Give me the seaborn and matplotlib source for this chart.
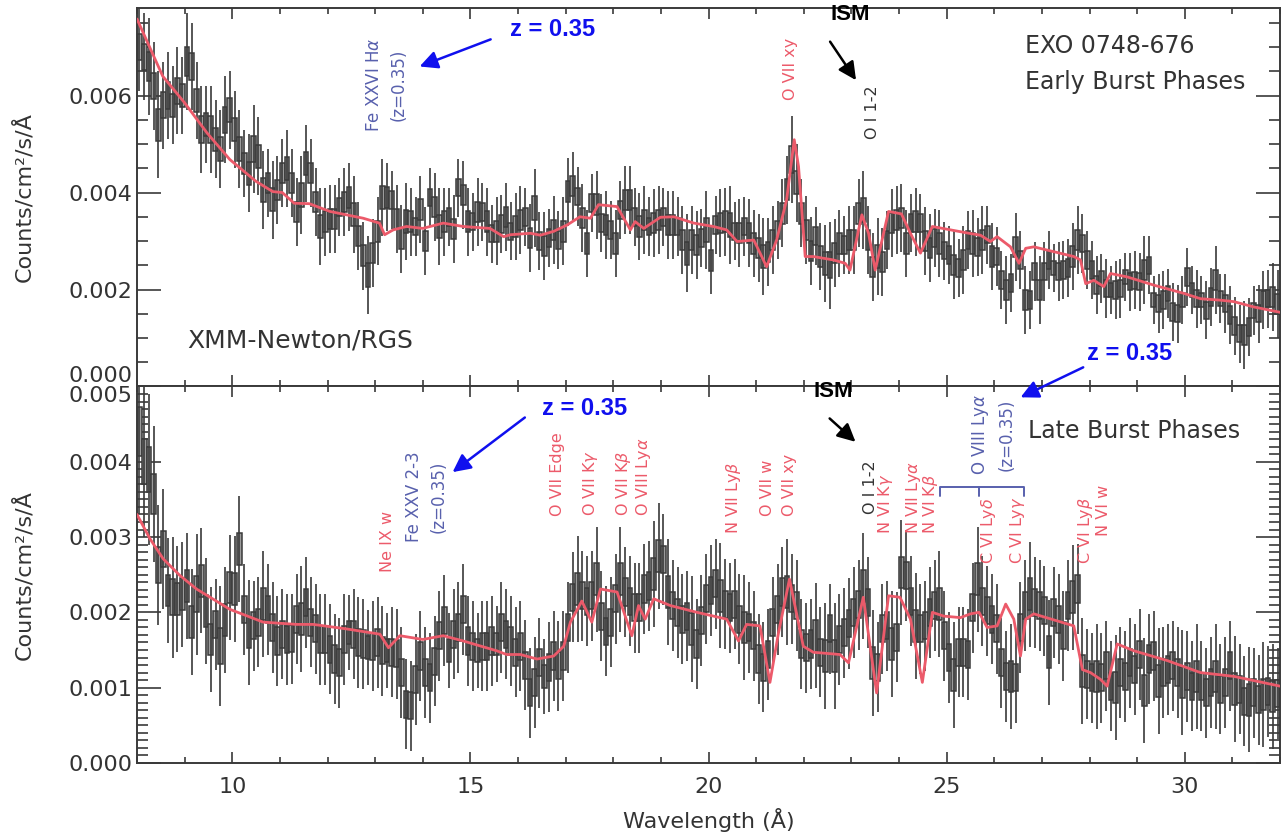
import numpy as np
import pandas as pd
import matplotlib
matplotlib.use("Agg")
import matplotlib.pyplot as plt
import seaborn as sns

# --- spectra, flux in units of 1e-4 counts/cm2/s/A, one row per Angstrom (0.1 A bins) ---
top_flux = [
    70, 68, 66, 62, 54, 58, 60, 58, 61, 60,
    67, 66, 59, 53, 54, 53, 51, 49, 55, 57,
    53, 49, 46, 44, 49, 47.5, 40.5, 42, 38.5, 40.5,
    44, 45, 42, 36, 39.5, 46, 44, 38, 33, 34,
    34.5, 34.5, 37, 38, 39, 35.5, 31, 27, 23, 27.5,
    32, 39, 39, 38.5, 34.5, 30.5, 34, 34, 33, 36.5,
    30, 39, 37, 33, 34, 35, 32.5, 41, 39.5, 34,
    34, 36, 36, 34, 31.5, 32, 33.5, 35, 32, 33,
    34.4, 35, 30.6, 36.8, 30, 29, 30.6, 32.3, 30.2, 32,
    40.2, 41.3, 39.2, 34.7, 29.5, 37.8, 37.5, 33.7, 33.3, 32.3,
    29.5, 36.4, 38.5, 38.5, 35, 33, 34.4, 33, 33.7, 34.4,
    35, 33.3, 33.3, 33, 30.2, 27.5, 30.2, 29.2, 30.6, 32.3,
    26, 33.3, 33.7, 34, 33.3, 32, 31.6, 33, 31.6, 29.5,
    28.5, 26.8, 27.8, 30.2, 32.3, 35.7, 40.6, 46.8, 42, 35.7,
    32.3, 28, 31, 26.8, 25.4, 25, 27.5, 29.5, 29.2, 30.2,
    30.2, 35.7, 36.4, 30.2, 24.7, 26.8, 25.7, 30.2, 33.7, 34.4,
    34.7, 29.5, 33.7, 34, 33.7, 30, 28.5, 30.6, 29.5, 28,
    27.1, 25, 24.4, 26.1, 30.2, 29.5, 28.8, 30.2, 31.3, 26.8,
    26.8, 22, 19.9, 21.3, 28.8, 26.1, 17.8, 17.8, 23.7, 19.9,
    23.7, 26.1, 24.4, 23.7, 24, 24.4, 26.8, 30.2, 29.5, 26.1,
    24, 20.9, 22.3, 20.2, 19.9, 19.9, 20.2, 22.6, 21.6, 21.9,
    21.6, 24, 25, 17.8, 17.1, 17.8, 19.2, 15.4, 15, 17.8,
    22.6, 19.9, 18.1, 17.8, 15.7, 18.5, 21.9, 18.1, 17.1, 14.7,
    12.5, 10.9, 10.6, 12.3, 15.7, 15, 17.8, 18.1, 18.5, 17,
]
top_err = [
    9, 9, 10, 9, 11, 9, 9, 8, 9, 8,
    10, 9, 8, 9, 8, 9, 8, 8, 9, 8,
    8, 8, 7, 8, 9, 8, 8, 7, 8, 7,
    7, 8, 7, 7, 8, 8, 7, 7, 8, 7,
    7, 7, 6, 7, 7, 8, 7, 7, 8, 7,
    7, 8, 7, 6, 7, 7, 8, 7, 6, 7,
    7, 6, 7, 8, 7, 6, 7, 6, 7, 7,
    6, 7, 6, 7, 6, 7, 6, 7, 6, 7,
    7, 6, 7, 8, 6, 7, 6, 7, 6, 7,
    7, 7, 6, 7, 7, 6, 7, 6, 7, 6,
    7, 6, 7, 7, 6, 7, 7, 6, 7, 7,
    6, 7, 7, 6, 7, 8, 7, 7, 6, 8,
    7, 6, 7, 7, 8, 6, 7, 6, 7, 7,
    7, 8, 7, 7, 6, 7, 7, 9, 8, 7,
    7, 7, 6, 7, 8, 9, 7, 7, 6, 7,
    7, 7, 8, 7, 7, 8, 7, 6, 7, 7,
    7, 7, 6, 7, 6, 7, 7, 6, 7, 6,
    6, 7, 6, 7, 6, 7, 6, 7, 6, 7,
    6, 6, 7, 6, 7, 6, 7, 6, 6, 7,
    6, 6, 5, 6, 6, 6, 7, 7, 6, 6,
    6, 6, 5, 6, 5, 6, 6, 5, 6, 6,
    6, 7, 6, 5, 6, 6, 5, 6, 6, 5,
    6, 5, 6, 5, 6, 6, 7, 5, 6, 6,
    6, 6, 7, 6, 5, 6, 6, 6, 7, 7,
]
bottom_flux = [
    44, 40, 39, 35.7, 26.3, 28.4, 22.9, 22, 21.8, 22.4,
    23.5, 18.7, 22.4, 24.2, 20.2, 16.4, 18.4, 15.5, 19, 23.3,
    23.1, 28.4, 20.4, 17.3, 18.2, 18.7, 21.1, 20.4, 18, 16.2,
    17.1, 16.4, 16.5, 19.1, 19.1, 21.3, 18.7, 17.8, 16.4, 16.4,
    15.1, 13.8, 13.3, 16.4, 17.3, 17.1, 16, 15.8, 15.3, 15.5,
    16, 14.9, 14.9, 14.7, 14.5, 12, 7.8, 7.6, 11.1, 14.2,
    12, 11.3, 13.5, 16.9, 18.9, 14.9, 17.1, 18, 20.4, 16.2,
    15.5, 14.9, 15.5, 15.5, 16.2, 15.8, 18, 17.1, 16.2, 14.7,
    15.5, 13, 9.3, 10.7, 13.3, 11.5, 12.7, 14.2, 12.9, 14.2,
    18, 22, 23.1, 22.2, 21.5, 22.2, 24.4, 19.5, 17.5, 18.7,
    21.8, 24.4, 22.7, 21.5, 20.6, 20.6, 23.1, 23.5, 25.1, 27.5,
    27, 22.7, 20.9, 20, 19.1, 19.5, 17.8, 15.8, 18.9, 21.8,
    22.9, 23.8, 22.2, 21.1, 20.6, 21.1, 19.1, 18, 18, 16.9,
    13.8, 12.7, 14.4, 18.7, 20.4, 22.7, 22.7, 21.8, 20.9, 15.8,
    15.3, 15.8, 16.9, 14.7, 14.2, 17.8, 14.2, 16.4, 17.3, 18.5,
    20, 21, 23.5, 21.3, 13.3, 12.7, 17.8, 18.2, 15.8, 16.7,
    25.3, 24.9, 21.5, 18.2, 17.8, 18.2, 20, 20.9, 21.1, 16.9,
    14, 11.7, 14.7, 14.7, 14.4, 20.6, 24.4, 21.5, 20.2, 19.1,
    17.8, 13.3, 11.5, 11.5, 11.3, 18, 20.9, 22.4, 21.3, 20.9,
    20.2, 14.7, 20, 19.1, 16.9, 20.9, 22, 23.1, 12.2, 11.8,
    11.3, 11.5, 11.3, 12.9, 10.2, 10, 12, 11.5, 13.3, 12.4,
    14.4, 9.6, 13.8, 14.2, 10.9, 12, 12.4, 12.9, 12, 10.7,
    11.5, 10.2, 11.5, 10.2, 9.3, 10.7, 11.5, 9.8, 10.7, 12.9,
    9.8, 9.8, 8.2, 8.4, 9.3, 8.4, 9.1, 9.5, 8.8, 9.2,
]
bottom_err = [
    11, 10, 10, 9, 8, 8, 7, 8, 7, 7,
    7, 7, 8, 7, 7, 7, 6, 8, 7, 7,
    7, 7, 6, 7, 6, 6, 7, 6, 6, 6,
    6, 6, 6, 6, 7, 6, 6, 6, 6, 6,
    6, 6, 6, 6, 5, 6, 6, 6, 5, 6,
    6, 6, 5, 6, 6, 6, 6, 6, 6, 6,
    6, 6, 6, 6, 6, 5, 6, 6, 6, 6,
    6, 5, 6, 6, 6, 5, 6, 6, 6, 6,
    6, 6, 6, 6, 6, 5, 6, 6, 6, 6,
    6, 6, 7, 6, 6, 6, 7, 6, 6, 6,
    6, 7, 6, 6, 6, 6, 6, 6, 7, 7,
    6, 7, 6, 6, 6, 6, 7, 6, 6, 6,
    6, 6, 7, 6, 6, 6, 6, 7, 6, 6,
    6, 6, 6, 6, 6, 6, 7, 6, 6, 6,
    6, 6, 7, 6, 7, 6, 7, 6, 6, 6,
    6, 6, 7, 6, 7, 6, 6, 6, 7, 6,
    7, 6, 6, 7, 6, 6, 6, 6, 7, 6,
    6, 7, 6, 6, 6, 6, 7, 6, 6, 6,
    6, 6, 6, 7, 6, 6, 6, 7, 6, 6,
    6, 7, 6, 6, 6, 6, 7, 6, 7, 6,
    6, 7, 6, 6, 6, 7, 6, 6, 6, 6,
    6, 7, 6, 6, 7, 6, 6, 6, 6, 7,
    6, 6, 7, 6, 6, 6, 7, 6, 6, 6,
    7, 6, 6, 7, 6, 6, 7, 6, 7, 6,
]

# --- best-fit models (red curves) ---
top_model_wave = [8.0, 8.54, 9.0, 9.47, 9.95, 10.5, 10.85, 11.05, 11.3, 11.62, 12.05, 12.75,
                  13.09, 13.2, 13.38, 13.66, 14.0, 14.43, 14.85, 15.41, 15.7, 15.84, 16.26,
                  16.47, 16.75, 17.03, 17.3, 17.52, 17.69, 18.08, 18.36, 18.46, 18.64, 18.99,
                  19.27, 19.69, 20.1, 20.38, 20.6, 20.95, 21.22, 21.43, 21.64, 21.8, 21.89,
                  22.03, 22.2, 22.62, 22.87, 22.97, 23.22, 23.36, 23.5, 23.78, 24.05, 24.24,
                  24.45, 24.7, 25.08, 25.47, 25.71, 25.92, 26.06, 26.34, 26.52, 26.66, 26.83,
                  27.67, 27.81, 27.92, 28.09, 28.3, 28.44, 28.79, 29.35, 29.98, 30.33, 30.75,
                  31.03, 31.45, 32.0]
top_model_flux = [75.8, 64, 58.5, 52.3, 46.8, 42.3, 40.2, 40, 37.8, 37.7, 36.1, 34.7,
                  33.7, 31.3, 32.3, 33, 32.6, 33.7, 33, 32.6, 30.9, 31.3, 31.6,
                  31.2, 32, 33.3, 35, 34.7, 37.5, 37.1, 32.3, 34, 32.6, 34.9,
                  35, 33.7, 33, 32.3, 29.9, 30.2, 24.7, 30.2, 38.5, 50.9, 45.4,
                  26.8, 26.8, 26.1, 25.4, 24, 35.4, 31.6, 24, 36.1, 35.6, 31.6,
                  27.5, 33, 32.3, 31.6, 31.2, 29.9, 30.9, 28.8, 25.4, 28.5, 28.8,
                  26.8, 26.1, 21.2, 21.9, 20.6, 23.3, 22.6, 20.9, 19.2, 18.1, 17.8,
                  17.5, 16.4, 15.3]
bottom_model_wave = [8.0, 8.27, 8.55, 8.9, 9.25, 9.95, 10.65, 11.35, 11.7, 12.4, 13.1, 13.28,
                     13.52, 14.0, 14.43, 14.85, 15.55, 15.76, 16.05, 16.4, 16.75, 16.96, 17.1,
                     17.34, 17.55, 17.73, 18.08, 18.39, 18.53, 18.67, 18.85, 19.2, 19.76, 20.38,
                     20.63, 20.8, 21.08, 21.29, 21.47, 21.7, 21.99, 22.2, 22.76, 22.94, 23.25,
                     23.53, 23.78, 24.02, 24.24, 24.49, 24.7, 24.94, 25.29, 25.5, 25.68, 25.85,
                     26.06, 26.24, 26.41, 26.55, 26.66, 26.83, 27.67, 27.85, 28.02, 28.23, 28.37,
                     28.58, 28.93, 29.63, 30.33, 31.03, 32.0]
bottom_model_flux = [33, 29.8, 27.1, 24.9, 23.1, 20.4, 18.7, 18.4, 18.4, 17.8, 17.1, 15.3,
                     16.9, 16.4, 16.9, 16.2, 14.9, 14.4, 14.4, 13.8, 14.2, 15.5, 18.7,
                     21.5, 18.7, 23.1, 22.7, 16.9, 20.9, 19.1, 21.8, 20.9, 20, 19.1,
                     16.2, 18.4, 18.2, 10.7, 17.3, 24.4, 15.5, 14.7, 14.4, 13.3, 22,
                     9.3, 22.2, 22, 19.1, 10.7, 20, 19.5, 19.3, 19.8, 20, 18,
                     18.2, 21.1, 19.1, 14.2, 19.1, 19.8, 18.2, 12.4, 12, 11.1, 10.2,
                     15.8, 14.9, 13.6, 12, 11.5, 10.2]

# --- line identifications: (label, wavelength, flux 1e-4) ---
top_lines_red = [("O VII xy", 21.72, 59.0)]
top_lines_gray = [("O I 1-2", 23.44, 51.0)]
bottom_lines_red = [
    ("Ne IX w", 13.25, 25.3), ("O VII Edge", 16.82, 32.8), ("O VII K$\\gamma$", 17.52, 32.8),
    ("O VII K$\\beta$", 18.22, 32.8), ("O VIII Ly$\\alpha$", 18.63, 32.8),
    ("N VII Ly$\\beta$", 20.52, 30.4), ("O VII w", 21.24, 32.8), ("O VII xy", 21.7, 32.8),
    ("N VI K$\\gamma$", 23.71, 30.4), ("N VII Ly$\\alpha$", 24.3, 30.4),
    ("N VI K$\\beta$", 24.66, 30.4), ("C VI Ly$\\delta$", 25.88, 26.4),
    ("C VI Ly$\\gamma$", 26.49, 26.4), ("C VI Ly$\\beta$", 27.92, 26.4), ("N VI w", 28.29, 30.1),
]
bottom_lines_gray = [("O I 1-2", 23.4, 33.1)]

SCALE = 1e-4
BIN = 0.1
RED = "#ec5a6a"
LINE_BLUE = "#5860ad"
ARROW_BLUE = "#1010ee"
INK = "#3a3a3a"

sns.set_theme(style="ticks")
plt.rcParams["font.family"] = ["DejaVu Sans"]
plt.rcParams["mathtext.fontset"] = "dejavusans"

fig = plt.figure(figsize=(12.84, 8.32), dpi=100)
ax1 = fig.add_axes([0.1067, 0.5355, 0.8902, 0.4545])
ax2 = fig.add_axes([0.1067, 0.0830, 0.8902, 0.4525], sharex=ax1)


def draw_spectrum(ax, flux, err, mwave, mflux):
    flux = np.asarray(flux) * SCALE
    err = np.asarray(err) * SCALE
    wave = 8.0 + BIN / 2 + BIN * np.arange(len(flux))
    half = 0.3 * err
    ax.bar(wave, 2 * half, bottom=flux - half, width=BIN, facecolor="#9c9c9c",
           edgecolor=INK, linewidth=1.1, zorder=2)
    ax.vlines(wave, flux - err, flux + err, color=INK, linewidth=1.2, zorder=2)
    model = pd.DataFrame({"wave": mwave, "flux": np.asarray(mflux) * SCALE})
    sns.lineplot(data=model, x="wave", y="flux", ax=ax, color=RED, linewidth=2.0,
                 sort=False, estimator=None, zorder=3)


def style_axes(ax, ymax, major, minor):
    ax.set_xlim(8, 32)
    ax.set_ylim(0, ymax)
    ax.set_xticks([10, 15, 20, 25, 30])
    ax.set_xticks(np.arange(8, 33, 1), minor=True)
    ax.set_yticks(np.arange(0, ymax + 1e-9, major))
    ax.set_yticks(np.arange(0, ymax + 1e-9, minor), minor=True)
    ax.yaxis.set_major_formatter(matplotlib.ticker.FormatStrFormatter("%.3f"))
    ax.tick_params(axis="both", which="both", direction="in", top=True, right=True,
                   colors=INK, labelcolor="#333333", labelsize=16, width=1.2)
    ax.tick_params(axis="y", which="major", length=17)
    ax.tick_params(axis="y", which="minor", length=8)
    ax.tick_params(axis="x", which="major", length=8, pad=10)
    ax.tick_params(axis="x", which="minor", length=4)
    for sp in ax.spines.values():
        sp.set_color(INK)
        sp.set_linewidth(1.4)
    ax.set_ylabel("Counts/cm²/s/Å", fontsize=16, color="#333333")
    ax.yaxis.set_label_coords(-0.09, 0.5)
    ax.set_xlabel("")


draw_spectrum(ax1, top_flux, top_err, top_model_wave, top_model_flux)
draw_spectrum(ax2, bottom_flux, bottom_err, bottom_model_wave, bottom_model_flux)
style_axes(ax1, 0.0078, 0.002, 0.0005)
style_axes(ax2, 0.005, 0.001, 0.0001)
ax1.tick_params(labelbottom=False)
ax2.set_xlabel("Wavelength (Å)", fontsize=16, color="#333333", labelpad=8)

# keep the shared 0.000 / 0.005 labels apart at the panel seam
fig.canvas.draw()
ax1.get_yticklabels()[0].set_verticalalignment("bottom")
ax2.get_yticklabels()[-1].set_verticalalignment("top")


def line_labels(ax, lines, color):
    for text, x, y in lines:
        ax.text(x, y * SCALE, text, rotation=90, ha="center", va="bottom",
                fontsize=11.5, color=color, zorder=4)


line_labels(ax1, top_lines_red, RED)
line_labels(ax1, top_lines_gray, "#333333")
line_labels(ax2, bottom_lines_red, RED)
line_labels(ax2, bottom_lines_gray, "#333333")

# redshifted identifications
ax1.text(13.24, 62.3 * SCALE, "Fe XXVI H$\\alpha$\n(z=0.35)", rotation=90, ha="center",
         va="center", multialignment="center", fontsize=12, color=LINE_BLUE,
         linespacing=1.5)
ax2.text(14.08, 35.3 * SCALE, "Fe XXV 2-3\n(z=0.35)", rotation=90, ha="center",
         va="center", multialignment="center", fontsize=12, color=LINE_BLUE,
         linespacing=1.5)
ax2.text(25.97, 43.6 * SCALE, "O VIII Ly$\\alpha$\n(z=0.35)", rotation=90, ha="center",
         va="center", multialignment="center", fontsize=12, color=LINE_BLUE,
         linespacing=1.5, clip_on=False)
ax2.plot([24.87, 24.87, 26.63, 26.63], [35.4 * SCALE, 36.7 * SCALE, 36.7 * SCALE, 35.4 * SCALE],
         color=LINE_BLUE, linewidth=1.4)
ax2.plot([25.67, 25.67], [36.7 * SCALE, 35.5 * SCALE], color=LINE_BLUE, linewidth=1.4)

# annotation arrows
arrow_blue = dict(arrowstyle="-|>,head_length=0.9,head_width=0.45", color=ARROW_BLUE, lw=1.8)
arrow_black = dict(arrowstyle="-|>,head_length=0.9,head_width=0.45", color="black", lw=1.8)
ax1.annotate("", xy=(13.88, 65.8 * SCALE), xytext=(15.48, 71.8 * SCALE), arrowprops=arrow_blue)
ax1.text(15.84, 73.7 * SCALE, "z = 0.35", fontsize=17, fontweight="bold",
         family="Liberation Sans", color=ARROW_BLUE, va="center")
ax1.annotate("", xy=(23.13, 62.7 * SCALE), xytext=(22.52, 71.6 * SCALE), arrowprops=arrow_black)
ax1.text(22.98, 76.8 * SCALE, "ISM", fontsize=16, fontweight="bold",
         family="Liberation Sans", color="black", ha="center", va="center")

ax2.annotate("", xy=(14.58, 38.4 * SCALE), xytext=(16.19, 46.1 * SCALE), arrowprops=arrow_blue)
ax2.text(16.5, 47.1 * SCALE, "z = 0.35", fontsize=17, fontweight="bold",
         family="Liberation Sans", color=ARROW_BLUE, va="center")
ax2.annotate("", xy=(23.13, 42.4 * SCALE), xytext=(22.5, 46.0 * SCALE), arrowprops=arrow_black)
ax2.text(22.62, 49.3 * SCALE, "ISM", fontsize=16, fontweight="bold",
         family="Liberation Sans", color="black", ha="center", va="center")
ax2.annotate("", xy=(26.5, 48.4 * SCALE), xytext=(27.92, 52.7 * SCALE), arrowprops=arrow_blue,
             annotation_clip=False)
ax2.text(27.95, 54.4 * SCALE, "z = 0.35", fontsize=17, fontweight="bold",
         family="Liberation Sans", color=ARROW_BLUE, va="center", clip_on=False, zorder=5)

# panel captions
ax1.text(26.65, 70.2 * SCALE, "EXO 0748-676", fontsize=17, color="#333333", va="center")
ax1.text(26.65, 62.9 * SCALE, "Early Burst Phases", fontsize=17, color="#333333", va="center")
ax1.text(9.05, 9.5 * SCALE, "XMM-Newton/RGS", fontsize=18, color="#333333", va="center")
ax2.text(26.7, 44.1 * SCALE, "Late Burst Phases", fontsize=17, color="#333333", va="center")

fig.savefig("out.png", dpi=100)
